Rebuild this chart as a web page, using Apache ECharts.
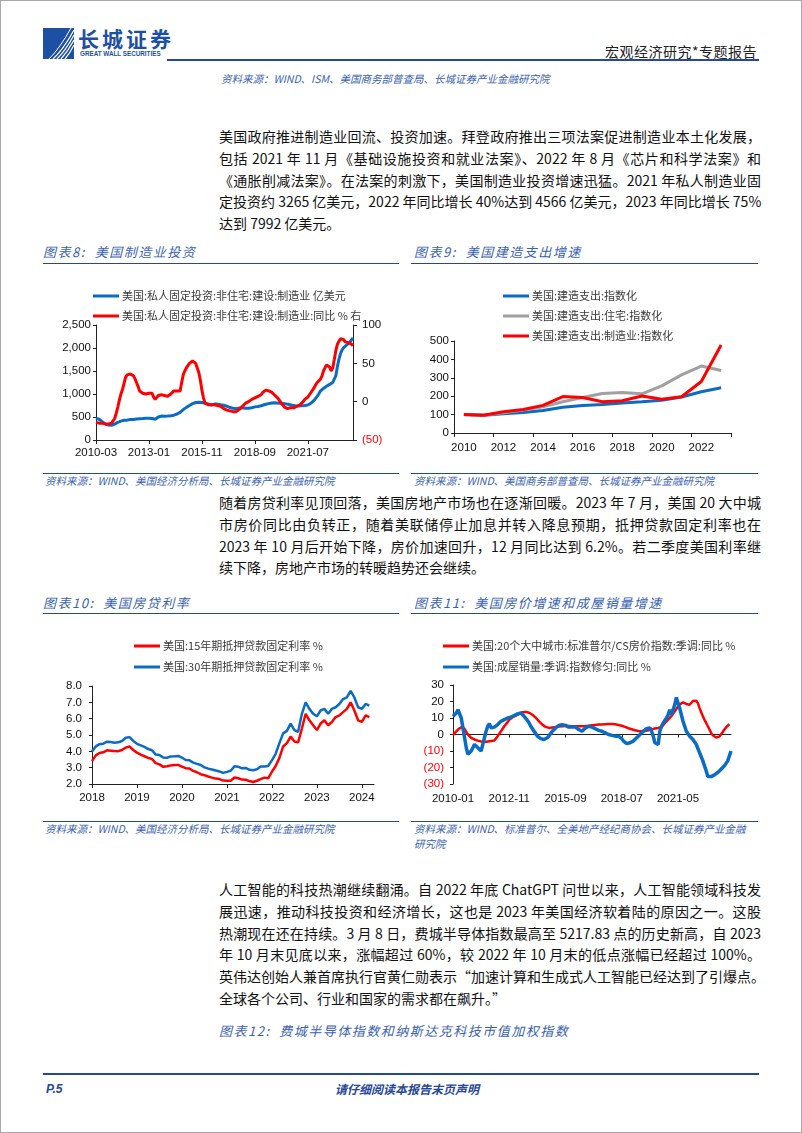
<!DOCTYPE html>
<html><head><meta charset="utf-8">
<script src="https://cdn.jsdelivr.net/npm/echarts@6/dist/echarts.min.js"></script>
<style>
html,body{margin:0;padding:0;background:#fff;}
#page{position:relative;width:802px;height:1133px;overflow:hidden;box-sizing:border-box;border:1px solid #a8a8a8;font-family:"Noto Sans CJK SC",sans-serif;}
.a{position:absolute;white-space:nowrap;}
.para{position:absolute;left:218px;width:542px;font-size:14px;line-height:21.75px;color:#111;}
.para div{text-align:justify;text-align-last:justify;white-space:nowrap;}
.para div.last{text-align-last:left;}
.ttl{position:absolute;font-size:13px;font-style:italic;color:#3a62b0;letter-spacing:1.5px;line-height:16px;white-space:nowrap;}
.src{position:absolute;font-size:10.5px;font-style:italic;color:#3a62b0;line-height:15px;white-space:nowrap;}
.hl{position:absolute;background:#27479a;}
.ch{position:absolute;}
</style></head>
<body>
<div id="page">
  <svg class="a" style="left:42px;top:27px" width="31" height="31" viewBox="0 0 31 31">
    <rect x="0" y="0" width="31" height="31" fill="#1d4fa3"/>
    <path d="M10 31 Q20 22 31 2" stroke="#fff" stroke-width="1.2" fill="none"/>
    <path d="M14 31 Q23 22 31 7" stroke="#fff" stroke-width="1.2" fill="none"/>
    <path d="M18 31 Q25 23 31 12" stroke="#fff" stroke-width="1.2" fill="none"/>
    <path d="M22 31 Q27 25 31 17" stroke="#fff" stroke-width="1.2" fill="none"/>
    <path d="M6 31 Q17 20 28 0" stroke="#fff" stroke-width="1" fill="none"/>
  </svg>
  <div class="a" style="left:77px;top:24px;font-size:21px;font-weight:700;letter-spacing:3px;color:#1d4fa3;line-height:26px">长城证券</div>
  <div class="a" style="left:79px;top:48px;font-size:7px;font-weight:700;color:#1d4fa3;font-family:'Liberation Sans';transform:scaleX(0.9);transform-origin:left;line-height:9px">GREAT WALL SECURITIES</div>
  <div class="a" style="left:560px;top:40px;width:196px;text-align:right;font-size:14px;color:#222;line-height:20px;letter-spacing:0.5px">宏观经济研究*专题报告</div>
  <div class="hl" style="left:166px;top:58px;width:592px;height:2px"></div>
  <div class="src" style="left:220px;top:70px">资料来源：WIND、ISM、美国商务部普查局、长城证券产业金融研究院</div>

  <div class="para" style="top:125px">
    <div>美国政府推进制造业回流、投资加速。拜登政府推出三项法案促进制造业本土化发展，</div>
    <div>包括 2021 年 11 月《基础设施投资和就业法案》、2022 年 8 月《芯片和科学法案》和</div>
    <div>《通胀削减法案》。在法案的刺激下，美国制造业投资增速迅猛。2021 年私人制造业固</div>
    <div>定投资约 3265 亿美元，2022 年同比增长 40%达到 4566 亿美元，2023 年同比增长 75%</div>
    <div class="last">达到 7992 亿美元。</div>
  </div>

  <div class="ttl" style="left:42px;top:243px">图表8:&nbsp; 美国制造业投资</div>
  <div class="hl" style="left:42px;top:262px;width:356px;height:1px"></div>
  <div class="ttl" style="left:413px;top:243px">图表9:&nbsp; 美国建造支出增速</div>
  <div class="hl" style="left:410px;top:262px;width:347px;height:1px"></div>

  <div id="c8" class="ch" style="left:40px;top:268px;width:360px;height:202px"></div>
  <div id="c9" class="ch" style="left:410px;top:268px;width:350px;height:202px"></div>

  <div class="hl" style="left:42px;top:472px;width:356px;height:1px"></div>
  <div class="hl" style="left:410px;top:472px;width:347px;height:1px"></div>
  <div class="src" style="left:44px;top:472px">资料来源：WIND、美国经济分析局、长城证券产业金融研究院</div>
  <div class="src" style="left:413px;top:472px">资料来源：WIND、美国商务部普查局、长城证券产业金融研究院</div>

  <div class="para" style="top:491px">
    <div>随着房贷利率见顶回落，美国房地产市场也在逐渐回暖。2023 年 7 月，美国 20 大中城</div>
    <div>市房价同比由负转正，随着美联储停止加息并转入降息预期，抵押贷款固定利率也在</div>
    <div>2023 年 10 月后开始下降，房价加速回升，12 月同比达到 6.2%。若二季度美国利率继</div>
    <div class="last">续下降，房地产市场的转暖趋势还会继续。</div>
  </div>

  <div class="ttl" style="left:42px;top:594px">图表10:&nbsp; 美国房贷利率</div>
  <div class="hl" style="left:42px;top:612px;width:356px;height:1px"></div>
  <div class="ttl" style="left:413px;top:594px">图表11:&nbsp; 美国房价增速和成屋销量增速</div>
  <div class="hl" style="left:410px;top:612px;width:347px;height:1px"></div>

  <div id="c10" class="ch" style="left:40px;top:615px;width:360px;height:200px"></div>
  <div id="c11" class="ch" style="left:410px;top:615px;width:350px;height:200px"></div>

  <div class="hl" style="left:42px;top:820px;width:356px;height:1px"></div>
  <div class="hl" style="left:410px;top:820px;width:347px;height:1px"></div>
  <div class="src" style="left:44px;top:820px">资料来源：WIND、美国经济分析局、长城证券产业金融研究院</div>
  <div class="src" style="left:413px;top:820px">资料来源：WIND、标准普尔、全美地产经纪商协会、长城证券产业金融<br>研究院</div>

  <div class="para" style="top:878px">
    <div>人工智能的科技热潮继续翻涌。自 2022 年底 ChatGPT 问世以来，人工智能领域科技发</div>
    <div>展迅速，推动科技投资和经济增长，这也是 2023 年美国经济软着陆的原因之一。这股</div>
    <div>热潮现在还在持续。3 月 8 日，费城半导体指数最高至 5217.83 点的历史新高，自 2023</div>
    <div>年 10 月末见底以来，涨幅超过 60%，较 2022 年 10 月末的低点涨幅已经超过 100%。</div>
    <div>英伟达创始人兼首席执行官黄仁勋表示“加速计算和生成式人工智能已经达到了引爆点。</div>
    <div class="last">全球各个公司、行业和国家的需求都在飙升。”</div>
  </div>

  <div class="ttl" style="left:218px;top:1022px">图表12:&nbsp; 费城半导体指数和纳斯达克科技市值加权指数</div>

  <div class="hl" style="left:42px;top:1072px;width:716px;height:2px"></div>
  <div class="a" style="left:45px;top:1080px;font-size:12px;font-weight:700;font-style:italic;color:#27479a;line-height:16px;font-family:'Liberation Sans'">P.5</div>
  <div class="a" style="left:301px;top:1080px;width:210px;text-align:center;font-size:12px;font-weight:700;font-style:italic;color:#27479a;line-height:16px">请仔细阅读本报告末页声明</div>
</div>

<script>
// ---------- helpers ----------
function monthRange(y, m, n) {
  const out = [];
  for (let i = 0; i < n; i++) {
    const mm = m - 1 + i;
    const yy = y + Math.floor(mm / 12);
    const mo = (mm % 12) + 1;
    out.push(yy + '-' + (mo < 10 ? '0' + mo : mo));
  }
  return out;
}

// ---------- Chart 8 data: US private manufacturing construction ----------
const c8Months = monthRange(2010, 3, 166);
const c8Invest = [
  470,465,450,430,400,370,345,330,325,322,
  320,325,345,365,385,400,410,420,428,430,432,440,
  445,448,447,450,455,460,462,460,465,470,472,470,
  475,472,468,460,452,470,500,515,520,520,518,520,
  522,525,528,530,540,555,565,580,600,630,660,690,
  710,730,750,770,790,805,815,820,822,820,815,810,
  800,790,785,770,760,770,780,785,780,770,765,760,
  755,745,735,720,705,695,690,685,680,690,695,700,
  700,695,690,688,690,695,700,710,720,725,730,740,
  745,755,765,775,785,795,800,805,808,805,805,800,
  800,800,795,790,785,780,770,760,755,750,745,740,
  740,742,745,748,752,755,760,775,800,830,860,900,
  950,1000,1060,1090,1120,1150,1170,1190,1210,1230,1250,1280,
  1400,1600,1760,1880,1960,2010,2040,2070,2100,2130,2170,2220
];
const c8Yoy = [
  -27,-27,-28,-28,-28,-28,-29,-29,-29,-29,
  -28,-27,-22,-15,-7,2,10,16,24,32,35,36,
  36,36,34,30,25,20,14,12,11,10,10,11,
  11,12,11,6,3,5,8,10,9,8,8,8,
  7,8,10,12,14,15,14,13,14,25,35,40,
  44,47,50,52,53,54,50,44,38,28,15,5,
  -2,-3,-4,-4,-4,-4,-4,-4,-5,-6,-6,-7,
  -9,-10,-11,-12,-12,-13,-13,-13,-13,-12,-10,-8,
  -6,-4,-2,-1,0,1,3,4,5,6,7,7,
  9,12,14,15,15,14,13,12,10,8,6,4,
  1,-2,-4,-7,-9,-9,-9,-8,-8,-8,-7,-6,
  -5,-4,-3,0,3,5,6,9,12,14,18,22,
  25,27,29,33,40,44,48,50,45,40,44,55,
  67,75,79,82,83,81,78,77,77,76,75,73
];

// ---------- Chart 9 data: construction spending indices ----------
const c9Years = ['2010','2011','2012','2013','2014','2015','2016','2017','2018','2019','2020','2021','2022','2023'];
const c9Total = [100, 97, 105, 112, 122, 140, 150, 155, 163, 170, 178, 196, 224, 246];
const c9Resid = [100, 97, 110, 125, 143, 170, 193, 215, 220, 213, 256, 316, 364, 340];
const c9Manu  = [100, 97, 115, 128, 150, 198, 193, 170, 175, 201, 183, 197, 280, 478];

// ---------- Chart 10 data: mortgage rates ----------
const c10Months = monthRange(2018, 1, 75);
const c10Rate15 = [
  3.40,3.75,3.90,3.94,4.06,4.04,4.02,4.01,4.08,4.23,4.30,4.08,
  3.92,3.80,3.70,3.60,3.53,3.28,3.20,3.05,3.09,3.14,3.16,3.17,
  3.07,2.97,2.95,2.80,2.72,2.60,2.54,2.46,2.39,2.33,2.30,2.21,
  2.20,2.20,2.40,2.35,2.27,2.26,2.18,2.12,2.20,2.30,2.39,2.35,
  2.75,3.10,3.60,4.30,4.50,4.90,4.60,4.55,5.40,6.30,5.90,5.60,
  5.30,5.70,5.90,5.60,5.80,6.10,6.20,6.40,6.60,7.00,6.50,5.90,
  5.80,6.20,6.10
];
const c10Rate30 = [
  3.99,4.30,4.44,4.47,4.59,4.57,4.53,4.55,4.63,4.83,4.87,4.64,
  4.46,4.37,4.27,4.14,4.07,3.80,3.77,3.62,3.61,3.69,3.70,3.72,
  3.62,3.47,3.45,3.31,3.23,3.16,3.02,2.94,2.89,2.83,2.77,2.68,
  2.74,2.81,3.08,3.06,2.96,2.98,2.87,2.84,2.90,3.07,3.07,3.10,
  3.45,3.85,4.50,5.10,5.25,5.70,5.30,5.20,6.30,7.00,6.60,6.30,
  6.15,6.50,6.60,6.30,6.60,6.70,6.90,7.20,7.30,7.70,7.30,6.70,
  6.60,6.90,6.80
];
const c10YearTicks = [2018, 2019, 2020, 2021, 2022, 2023, 2024];

// ---------- Chart 11 data: house prices & existing home sales ----------
const c11Months = monthRange(2010, 1, 169);
const c11Price = [
  -0.5,0.8,2,3,4,4.3,4.5,3.5,1.5,0,-1.2,-2,
  -2.5,-3,-3.3,-3.7,-4,-4.2,-4.4,-4.5,-4.4,-4.2,-4,-3.9,
  -3.8,-3.6,-2.5,-1,0.5,2,3.5,5,6,7.5,9,10,
  10.5,11,11.5,12,12.5,13,13.5,13.7,13.7,13.5,13.2,12.8,
  12,11,10.2,9.2,8,7,6,5,4.6,4.3,4,4.2,
  4.3,4.5,4.5,4.6,4.8,5,5,5,5.1,5.2,5.2,5.1,
  5,5,5,5,5,5,5,5,5.1,5.2,5.3,5.5,
  5.6,5.7,5.8,6,6,6,6.1,6.2,6.2,6.3,6.3,6.3,
  6.3,6.3,6.2,6,5.8,5.6,5.3,5,4.6,4.2,3.8,3.5,
  3.2,2.9,2.6,2.3,2.1,2,2,2,2.1,2.4,2.6,2.9,
  3.1,3.4,3.6,3.8,4,3.8,4.5,5.5,6.8,7.9,9,10,
  11.2,12.5,14,15.5,17,18.3,19,19.5,19,18.5,18,18,
  19,20.3,21,20.5,19,16,13.5,11,8.9,7,5,3,
  1,-0.5,-1.2,-1.8,-1.7,-1.2,0,1.5,3,4.3,5.3,6.2,
  null
];
const c11Sales = [
  11,11,13,15,16,10,4,-2,-8,-12,-11,-10,
  -8,-6,-6.5,-8,-9,-10,-6,-2,2,5,6.5,4,
  4,4.5,5,6,7,8,8.5,9,9.5,10,10,10.5,
  11,11.5,12,12.5,13,13,12,11,10,8.5,7,5,
  3.5,2,0.5,-1,-2,-2.5,-3,-3,-2.5,-2,-1,0.5,
  2,3,4,5,5.5,6,6,6,5.5,5,4.5,4,
  4.5,5,4.5,3.5,3,2.5,2,3,4,4.5,5,5,
  4.5,4,3.5,3,2.5,2,2,1.5,1,0.5,0,-0.5,
  -0.5,-1,-1,-1,-1,-1.5,-2.5,-4,-5,-5.5,-5.5,-5,
  -4.5,-4,-3,-2,-1,0,1,2,3,3.5,4,4,
  2,-1,-5,-6,-6,2,5,7,8,10,12,15,
  12,15,18,22.5,19,16,12,8,5,2,0.5,-1,
  -2,-3,-4.5,-6,-8.5,-11,-13.5,-16,-19,-22,-25.5,-25.5,
  -25.5,-25,-24.5,-24,-23,-22,-21,-20,-19,-17.5,-16,-13,
  -10
];

// ---------- shared styles ----------
const BLUE = '#0a6cc4', RED = '#ff0000', GREY = '#a0a0a0';
const NUMFONT = 'Liberation Sans';
const axisLineStyle = { color: '#222', width: 1 };
const lblStyle = { fontFamily: NUMFONT, fontSize: 11.5, color: '#111' };
function legendCfg(left, top, gap) {
  return {
    orient: 'vertical', left: left, top: top, icon: 'rect',
    itemWidth: 26, itemHeight: 3, itemGap: gap, selectedMode: false,
    textStyle: { fontFamily: 'Noto Sans CJK SC', fontSize: 11, lineHeight: 14, color: '#3a3a3a', padding: [0, 0, 0, -2] }
  };
}
function lineSeries(name, data, color, width, extra) {
  return Object.assign({
    name: name, type: 'line', data: data, showSymbol: false, symbol: 'none',
    lineStyle: { color: color, width: width }, itemStyle: { color: color },
    animation: false, connectNulls: false
  }, extra || {});
}
function parenFmt(v) { return v < 0 ? '{r|(' + (-v) + ')}' : String(v); }
const redRich = { r: { color: RED, fontFamily: NUMFONT, fontSize: 11.5 } };

// ---------- Chart 8 ----------
echarts.init(document.getElementById('c8')).setOption({
  animation: false,
  legend: legendCfg(47, 15, 6),
  grid: { left: 55, right: 48, top: 56, bottom: 31, outerBoundsMode: 'none' },
  xAxis: {
    type: 'category', data: c8Months, boundaryGap: false,
    axisLine: { lineStyle: axisLineStyle },
    axisTick: { show: true, interval: 33, length: 4, lineStyle: axisLineStyle },
    axisLabel: Object.assign({ interval: 33, margin: 7, hideOverlap: false }, lblStyle)
  },
  yAxis: [
    { type: 'value', min: 0, max: 2500, interval: 500, position: 'left',
      axisLine: { show: true, lineStyle: axisLineStyle },
      axisTick: { show: true, length: 3, lineStyle: axisLineStyle },
      splitLine: { show: false },
      axisLabel: Object.assign({ margin: 5, formatter: v => v.toLocaleString('en-US') }, lblStyle) },
    { type: 'value', min: -50, max: 100, interval: 50, position: 'right',
      axisLine: { show: true, lineStyle: axisLineStyle },
      axisTick: { show: true, length: 4, lineStyle: axisLineStyle },
      splitLine: { show: false },
      axisLabel: Object.assign({ margin: 9, formatter: parenFmt, rich: redRich }, lblStyle) }
  ],
  series: [
    lineSeries('美国:私人固定投资:非住宅:建设:制造业 亿美元', c8Invest, BLUE, 3, { yAxisIndex: 0 }),
    lineSeries('美国:私人固定投资:非住宅:建设:制造业:同比 % 右', c8Yoy, RED, 3, { yAxisIndex: 1 })
  ]
});

// ---------- Chart 9 ----------
echarts.init(document.getElementById('c9')).setOption({
  animation: false,
  legend: legendCfg(87, 15, 6),
  grid: { left: 43, right: 30, top: 72, bottom: 38, outerBoundsMode: 'none' },
  xAxis: {
    type: 'category', data: c9Years, boundaryGap: true,
    axisLine: { lineStyle: axisLineStyle },
    axisTick: { show: true, interval: 1, length: 4, alignWithLabel: false, lineStyle: axisLineStyle },
    axisLabel: Object.assign({ interval: 1, margin: 9 }, lblStyle)
  },
  yAxis: {
    type: 'value', min: 0, max: 500, interval: 100,
    axisLine: { show: true, lineStyle: axisLineStyle },
    axisTick: { show: true, length: 3, lineStyle: axisLineStyle },
    splitLine: { show: false },
    axisLabel: Object.assign({ margin: 5 }, lblStyle)
  },
  series: [
    lineSeries('美国:建造支出:指数化', c9Total, BLUE, 3),
    lineSeries('美国:建造支出:住宅:指数化', c9Resid, GREY, 3),
    lineSeries('美国:建造支出:制造业:指数化', c9Manu, RED, 3)
  ]
});

// ---------- Chart 10 ----------
function toYearFrac(s) { const p = s.split('-'); return +p[0] + (+p[1] - 1) / 12; }
const c10X = c10Months.map(toYearFrac);
echarts.init(document.getElementById('c10')).setOption({
  animation: false,
  legend: legendCfg(88, 18, 7),
  grid: { left: 51, right: 27, top: 70, bottom: 32, outerBoundsMode: 'none' },
  xAxis: {
    type: 'value', min: 2018, max: 2024.27,
    axisLine: { show: true, onZero: false, lineStyle: axisLineStyle },
    axisTick: { show: true, length: 4, customValues: c10YearTicks, lineStyle: axisLineStyle },
    splitLine: { show: false },
    axisLabel: Object.assign({ margin: 8, customValues: c10YearTicks, formatter: v => String(v) }, lblStyle)
  },
  yAxis: {
    type: 'value', min: 2, max: 8, interval: 1,
    axisLine: { show: true, lineStyle: axisLineStyle },
    axisTick: { show: true, length: 3, lineStyle: axisLineStyle },
    splitLine: { show: false },
    axisLabel: Object.assign({ margin: 10, formatter: v => v.toFixed(1) }, lblStyle)
  },
  series: [
    lineSeries('美国:15年期抵押贷款固定利率 %', c10X.map((x, i) => [x, c10Rate15[i]]), RED, 2.5),
    lineSeries('美国:30年期抵押贷款固定利率 %', c10X.map((x, i) => [x, c10Rate30[i]]), BLUE, 2.5)
  ]
});

// ---------- Chart 11 ----------
echarts.init(document.getElementById('c11')).setOption({
  animation: false,
  legend: legendCfg(27, 18, 7),
  grid: { left: 42, right: 30, top: 69, bottom: 32, outerBoundsMode: 'none' },
  xAxis: [
    { type: 'category', data: c11Months, boundaryGap: false, position: 'bottom',
      axisLine: { show: true, onZero: true, lineStyle: axisLineStyle },
      axisTick: { show: true, interval: 33, length: 3, lineStyle: axisLineStyle },
      axisLabel: { show: false } },
    { type: 'category', data: c11Months, boundaryGap: false, position: 'bottom',
      axisLine: { show: false, onZero: false },
      axisTick: { show: false },
      axisLabel: Object.assign({ interval: 33, margin: 9, hideOverlap: false }, lblStyle) }
  ],
  yAxis: {
    type: 'value', min: -30, max: 30, interval: 10,
    axisLine: { show: true, lineStyle: axisLineStyle },
    axisTick: { show: true, length: 3, lineStyle: axisLineStyle },
    splitLine: { show: false },
    axisLabel: Object.assign({ margin: 9, formatter: parenFmt, rich: redRich }, lblStyle)
  },
  series: [
    lineSeries('美国:20个大中城市:标准普尔/CS房价指数:季调:同比 %', c11Price, RED, 2.5, { xAxisIndex: 0 }),
    lineSeries('美国:成屋销量:季调:指数修匀:同比 %', c11Sales, BLUE, 3.5, { xAxisIndex: 0 })
  ]
});
</script>
</body></html>
